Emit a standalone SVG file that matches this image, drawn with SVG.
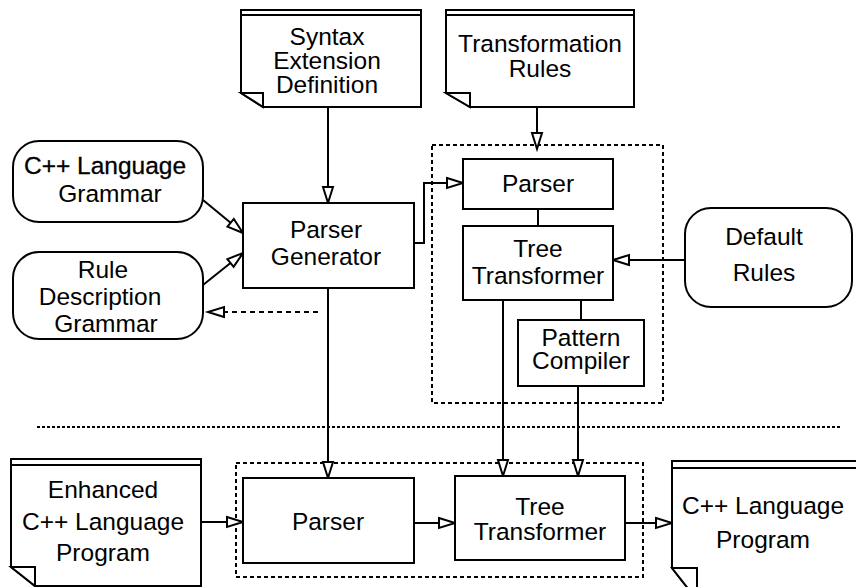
<svg xmlns="http://www.w3.org/2000/svg" width="856" height="587" viewBox="0 0 856 587">
  <defs>
    <marker id="open" markerUnits="userSpaceOnUse" markerWidth="20" markerHeight="14" refX="16" refY="5" orient="auto" overflow="visible">
      <path d="M0,0 L16,5 L0,10 Z" fill="#fff" stroke="#000" stroke-width="2" stroke-dasharray="none" stroke-linejoin="miter"/>
    </marker>
  </defs>
  <style>
    .box { fill: #fff; stroke: #000; stroke-width: 2; }
    .doc { fill: #fff; stroke: #000; stroke-width: 2; stroke-linejoin: miter; }
    .fold { fill: #fff; stroke: #000; stroke-width: 2; }
    .frame { fill: none; stroke: #000; stroke-width: 2; stroke-dasharray: 4 3; }
    .sep { fill: none; stroke: #000; stroke-width: 2; stroke-dasharray: 3 2; }
    .wire { fill: none; stroke: #000; stroke-width: 2; }
    .arrow { fill: none; stroke: #000; stroke-width: 2; marker-end: url(#open); }
    .dashed { stroke-dasharray: 5 4; }
    text { font-family: "Liberation Sans", Arial, Helvetica, sans-serif; font-size: 24.5px; fill: #000; text-anchor: middle; }
  </style>

  <!-- dashed frames and separator -->
  <rect class="frame" x="432" y="145" width="231" height="258"/>
  <rect class="frame" x="236" y="463" width="407" height="114"/>
  <line class="sep" x1="37" y1="427" x2="842" y2="427"/>

  <!-- connectors -->
  <g id="connectors">
    <path class="arrow" d="M328,107 V203"/>
    <path class="arrow" d="M203,200 L243,233"/>
    <path class="arrow" d="M203,285 L243,253"/>
    <path class="arrow dashed" d="M318,312 H208"/>
    <path class="arrow" d="M414,243 H424 V183 H463"/>
    <path class="arrow" d="M537,107 V149"/>
    <path class="wire" d="M538,209 V226"/>
    <path class="arrow" d="M685,260 H613"/>
    <path class="wire" d="M581,300 V320"/>
    <path class="arrow" d="M328,288 V478"/>
    <path class="arrow" d="M503,300 V476"/>
    <path class="arrow" d="M578,386 V476"/>
    <path class="arrow" d="M201,522 H243"/>
    <path class="arrow" d="M414,523 H455"/>
    <path class="arrow" d="M625,523 H672"/>
  </g>

  <!-- Syntax Extension Definition (document) -->
  <g id="syntax-extension">
    <path class="doc" d="M241,10 H421 V107 H263 L241,93 Z"/>
    <line class="wire" x1="242" y1="15" x2="420" y2="15"/>
    <path class="fold" d="M241,93 H263 V107 Z"/>
    <text x="327" y="45">Syntax</text>
    <text x="327" y="69">Extension</text>
    <text x="327" y="93">Definition</text>
  </g>

  <!-- Transformation Rules (document) -->
  <g id="transformation-rules">
    <path class="doc" d="M446,10 H634 V107 H470 L446,93 Z"/>
    <line class="wire" x1="447" y1="15" x2="633" y2="15"/>
    <path class="fold" d="M446,93 H470 V107 Z"/>
    <text x="540" y="52">Transformation</text>
    <text x="540" y="77">Rules</text>
  </g>

  <!-- C++ Language Grammar -->
  <g id="cpp-grammar">
    <rect class="box" x="13" y="141" width="190" height="81" rx="26" ry="26"/>
    <text x="105" y="174" stroke="#000" stroke-width="0.3">C++ Language</text>
    <text x="110" y="202">Grammar</text>
  </g>

  <!-- Rule Description Grammar -->
  <g id="rule-grammar">
    <rect class="box" x="13" y="252" width="190" height="87" rx="26" ry="26"/>
    <text x="103" y="278">Rule</text>
    <text x="100" y="305">Description</text>
    <text x="106" y="332">Grammar</text>
  </g>

  <!-- Parser Generator -->
  <g id="parser-generator">
    <rect class="box" x="243" y="203" width="171" height="85"/>
    <text x="326" y="238">Parser</text>
    <text x="326" y="265">Generator</text>
  </g>

  <!-- Parser (generated) -->
  <g id="rule-parser">
    <rect class="box" x="463" y="159" width="150" height="50"/>
    <text x="538" y="192">Parser</text>
  </g>

  <!-- Tree Transformer (generated) -->
  <g id="rule-tree-transformer">
    <rect class="box" x="463" y="226" width="150" height="74"/>
    <text x="538" y="257">Tree</text>
    <text x="538" y="284">Transformer</text>
  </g>

  <!-- Pattern Compiler -->
  <g id="pattern-compiler">
    <rect class="box" x="518" y="320" width="126" height="66"/>
    <text x="581" y="346">Pattern</text>
    <text x="581" y="369">Compiler</text>
  </g>

  <!-- Default Rules -->
  <g id="default-rules">
    <rect class="box" x="685" y="208" width="167" height="99" rx="26" ry="26"/>
    <text x="764" y="245">Default</text>
    <text x="764" y="281">Rules</text>
  </g>

  <!-- Enhanced C++ Language Program (document) -->
  <g id="enhanced-program">
    <path class="doc" d="M11,459 H201 V586 H35 L11,567 Z"/>
    <line class="wire" x1="12" y1="465" x2="200" y2="465"/>
    <path class="fold" d="M11,567 H35 V586 Z"/>
    <text x="103" y="498">Enhanced</text>
    <text x="103" y="530">C++ Language</text>
    <text x="103" y="561">Program</text>
  </g>

  <!-- Parser (translator) -->
  <g id="parser">
    <rect class="box" x="243" y="478" width="171" height="85"/>
    <text x="328" y="530">Parser</text>
  </g>

  <!-- Tree Transformer (translator) -->
  <g id="tree-transformer">
    <rect class="box" x="455" y="476" width="170" height="84"/>
    <text x="540" y="515">Tree</text>
    <text x="540" y="540">Transformer</text>
  </g>

  <!-- C++ Language Program (document) -->
  <g id="cpp-program">
    <path class="doc" d="M672,461 H866 V600 H697 L672,568 Z"/>
    <line class="wire" x1="673" y1="468" x2="866" y2="468"/>
    <path class="fold" d="M672,568 H697 V600 Z"/>
    <text x="763" y="514">C++ Language</text>
    <text x="763" y="548">Program</text>
  </g>
</svg>
